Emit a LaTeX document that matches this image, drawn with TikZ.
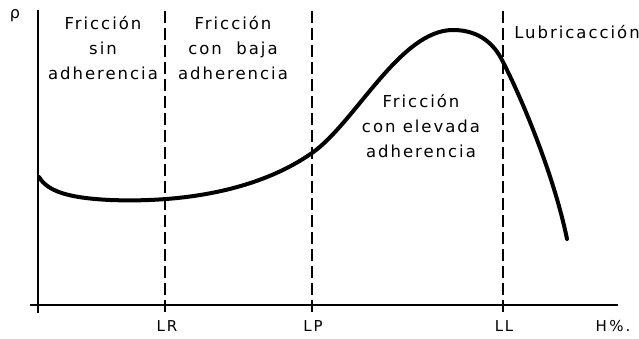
\documentclass[tikz,border=0pt]{standalone}
\usepackage{fontspec}
\setmainfont{DejaVu Sans}
\newfontfamily\lblfont[LetterSpace=12]{DejaVu Sans}
\begin{document}
\begin{tikzpicture}[x=1pt,y=-1pt,
  axis/.style={line width=1.5pt},
  limit/.style={line width=1.1pt, dash pattern=on 12pt off 5pt},
  curve/.style={line width=4pt, line cap=round},
  lbl/.style={font=\lblfont\fontsize{16.5}{25}\selectfont, align=center, inner sep=0pt},
  ticklbl/.style={font=\lblfont\fontsize{15}{16}\selectfont, inner sep=0pt}]
\useasboundingbox (0,0) rectangle (639,339);
\coordinate (o) at (38,305);
\coordinate (ytop) at (38,10);
\coordinate (xl) at (30,305);
\coordinate (xr) at (618,305);
\draw[axis] (o |- 0,313) -- (ytop);
\draw[axis] (xl) -- (xr);
% limits
\coordinate (lrb) at (165,312); \coordinate (lrt) at (165,10);
\coordinate (lpb) at (312,312); \coordinate (lpt) at (312,10);
\coordinate (llb) at (503,312); \coordinate (llt) at (503,8);
\draw[limit] (lrb) -- (lrt);
\draw[limit] (lpb) -- (lpt);
\draw[limit] (llb) -- (llt);
\draw[line width=1.2pt] (165,300) -- (lrb) (312,300) -- (lpb) (503,300) -- (llb);
% curve
\coordinate (c0) at (39,177);
\coordinate (c1) at (110,200);
\coordinate (c2) at (312,153);
\coordinate (c3) at (453,30);
\coordinate (c4) at (503,62);
\coordinate (c5) at (567,239);
\draw[curve] (c0) .. controls (48,192) and (70,198) .. (c1)
  .. controls (190,203) and (262,188) .. (c2)
  .. controls (355,123) and (400,30) .. (c3)
  .. controls (480,30) and (495,45) .. (c4)
  .. controls (525,105) and (555,180) .. (c5);
% labels
\node[font=\fontsize{16}{16}\selectfont, inner sep=0pt] (rho) at (15,16) {ρ};
\node[lbl] (r1) at (103,48) {Fricción\\sin\\adherencia};
\node[lbl] (r2) at (233,48) {Fricción\\con\ \ baja\\adherencia};
\node[lbl] (r3) at (421,126) {Fricción\\con elevada\\adherencia};
\node[lbl] (r4) at (577,32) {Lubricacción};
\node[ticklbl] (t1) at (167,326) {LR};
\node[ticklbl] (t2) at (313,326) {LP};
\node[ticklbl] (t3) at (504,326) {LL};
\node[ticklbl] (t4) at (613,326) {H\,\%.};
\end{tikzpicture}
\end{document}
